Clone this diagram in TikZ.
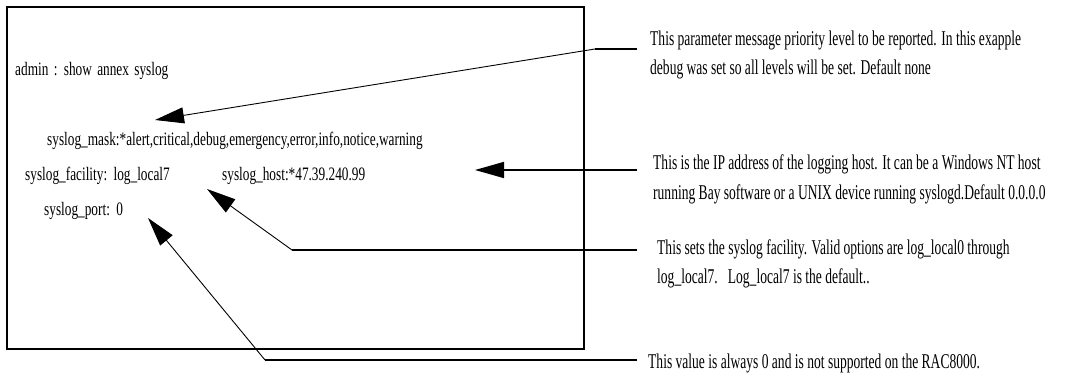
\documentclass[tikz,border=0pt]{standalone}
\usepackage{fontspec}
\setmainfont{Liberation Serif}
\newfontfamily\cmdserif[FakeStretch=0.70,WordSpace=1.6]{Liberation Serif}
\newfontfamily\noteserif[FakeStretch=0.645]{Liberation Serif}
\usetikzlibrary{arrows.meta}

\tikzset{
  screen/.style={draw=black, line width=1.8pt},
  cmdtext/.style={anchor=base west, inner sep=0pt, font=\cmdserif\fontsize{19}{22}\selectfont},
  notetext/.style={anchor=base west, inner sep=0pt, font=\noteserif\fontsize{21}{28}\selectfont},
  leader/.style={line width=1.6pt},
  pointer/.style={line width=0.9pt, -{Triangle[length=29pt,width=16pt]}},
}

\begin{document}
\begin{tikzpicture}[x=1pt, y=-1pt]
  \useasboundingbox (0,0) rectangle (1065,377);

  % console window
  \draw[screen] (7,7) rectangle (584,349);

  % console output
  \node[cmdtext] (cmd)  at (15,76)  {admin : show annex syslog};
  \node[cmdtext] (mask) at (47,146) {syslog\_mask:*alert,critical,debug,emergency,error,info,notice,warning};
  \node[cmdtext] (fac)  at (25,180) {syslog\_facility: log\_local7};
  \node[cmdtext] (host) at (222,180) {syslog\_host:*47.39.240.99};
  \node[cmdtext] (port) at (44,215) {syslog\_port: 0};

  % explanations
  \node[notetext] (n1a) at (650,46)  {This parameter message priority level to be reported. In this exapple};
  \node[notetext] (n1b) at (650,75)  {debug was set so all levels will be set. Default none};
  \node[notetext] (n2a) at (653,169) {This is the IP address of the logging host. It can be a Windows NT host};
  \node[notetext] (n2b) at (653,199) {running Bay software or a UNIX device running syslogd.Default 0.0.0.0};
  \node[notetext] (n3a) at (657,254) {This sets the syslog facility. Valid options are log\_local0 through};
  \node[notetext] (n3b) at (657,283) {log\_local7.\ \ \ Log\_local7 is the default..};
  \node[notetext] (n4)  at (648,368) {This value is always 0 and is not supported on the RAC8000.};

  % leader ends, bends and arrow tips
  \coordinate (e1) at (637,49);  \coordinate (k1) at (595,49);  \coordinate (t1) at (155,120);
  \coordinate (e2) at (637,170); \coordinate (t2) at (475,170);
  \coordinate (e3) at (637,250); \coordinate (k3) at (292,250); \coordinate (t3) at (207,189);
  \coordinate (e4) at (637,360); \coordinate (k4) at (265,360); \coordinate (t4) at (148,218);

  % leaders
  \draw[leader] (e1) -- (k1);
  \draw[pointer] (k1) -- (t1);
  \draw[leader, -{Triangle[length=29pt,width=16pt]}] (e2) -- (t2);
  \draw[leader] (e3) -- (k3);
  \draw[pointer] (k3) -- (t3);
  \draw[leader] (e4) -- (k4);
  \draw[pointer] (k4) -- (t4);
\end{tikzpicture}
\end{document}
